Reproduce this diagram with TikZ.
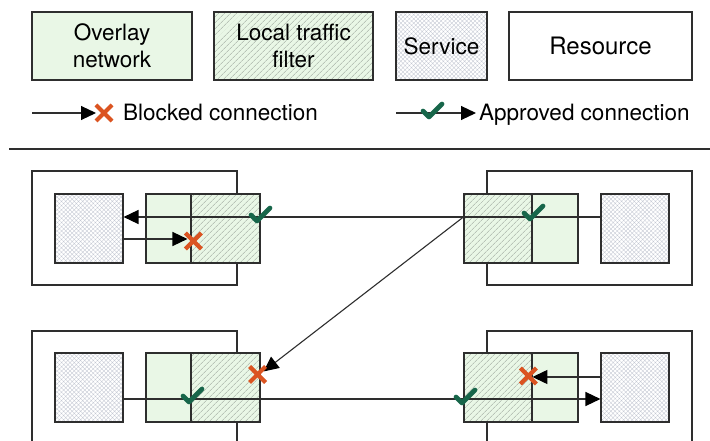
\documentclass[tikz,border=0pt]{standalone}
\usepackage{fontspec}
\setmainfont{TeX Gyre Heros}
\usetikzlibrary{patterns.meta,arrows.meta,calc}
\definecolor{edge}{HTML}{2E2E2E}
\definecolor{ovl}{HTML}{E9F7E6}
\definecolor{hatch}{HTML}{9EA89E}
\definecolor{cross}{HTML}{C4C8D3}
\definecolor{okcol}{HTML}{17664A}
\definecolor{nocol}{HTML}{DB5421}
\tikzset{
  box/.style={draw=edge, line width=1.1pt, inner sep=0pt},
  ovlbox/.style={box, fill=ovl},
  fltbox/.style={box, preaction={fill=ovl},
    pattern={Lines[angle=45,distance=4pt,line width=0.5pt]}, pattern color=hatch},
  svcbox/.style={box, preaction={fill=white},
    pattern={Hatch[angle=45,distance=3pt,line width=0.35pt]}, pattern color=cross},
  lbl/.style={font=\fontsize{22.5}{27}\selectfont, align=center},
  conn/.style={draw=edge, line width=1.3pt},
  tip/.style={-{Triangle[length=15pt,width=14pt,fill=black,color=black]}},
  okmark/.pic={\draw[okcol, line width=4.7pt, line cap=round, line join=round]
    (-9,-1) -- (-3,5) -- (10,-8);},
  nomark/.pic={\draw[nocol, line width=4.2pt] (-8,-8) -- (8,8) (-8,8) -- (8,-8);}
}
\begin{document}
\begin{tikzpicture}[x=1pt, y=-1pt]
\clip (0,0) rectangle (710,441);
\fill[white] (0,0) rectangle (710,441);

% legend boxes
\node[ovlbox, lbl, minimum width=160pt, minimum height=68pt] (lovl) at (112,46) {Overlay\\network};
\node[fltbox, lbl, minimum width=159pt, minimum height=68pt] (lflt) at (293.5,46) {Local traffic\\filter};
\node[svcbox, lbl, minimum width=91pt, minimum height=68pt] (lsvc) at (441.5,46) {Service};
\node[box, font=\fontsize{24}{28}\selectfont, minimum width=183pt, minimum height=68pt] (lres) at (600.5,46) {Resource};

% legend connectors
\coordinate (b0) at (32,113);
\coordinate (b1) at (96,113);
\draw[conn, line width=1.1pt, tip] (b0) -- (b1);
\pic at (104,113) {nomark};
\node[lbl, anchor=base west, inner sep=0pt] (blbl) at (123,121) {Blocked connection};

\coordinate (a0) at (396,113);
\coordinate (a1) at (476,113);
\draw[conn, line width=1.1pt, tip] (a0) -- (a1);
\pic at (432,112) {okmark};
\node[lbl, anchor=base west, inner sep=0pt] (albl) at (479,121) {Approved connection};

% separator
\coordinate (s0) at (9,149);
\coordinate (s1) at (712,149);
\draw[edge, line width=1.5pt] (s0) -- (s1);

% top-left resource
\node[box, minimum width=205pt, minimum height=114pt] (tlo) at (134.5,228) {};
\node[svcbox, minimum width=68pt, minimum height=69pt] (tls) at (89,228.5) {};
\node[ovlbox, minimum width=45pt, minimum height=69pt] (tlg) at (168.5,228.5) {};
\node[fltbox, minimum width=69pt, minimum height=69pt] (tlf) at (225.5,228.5) {};

% top-right resource
\node[box, minimum width=205pt, minimum height=114pt] (tro) at (589.5,228) {};
\node[svcbox, minimum width=68pt, minimum height=69pt] (trs) at (635,228.5) {};
\node[ovlbox, minimum width=46pt, minimum height=69pt] (trg) at (555,228.5) {};
\node[fltbox, minimum width=68pt, minimum height=69pt] (trf) at (498,228.5) {};

% bottom-left resource
\node[box, minimum width=205pt, minimum height=129pt] (blo) at (134.5,395.5) {};
\node[svcbox, minimum width=68pt, minimum height=69pt] (bls) at (89,387.5) {};
\node[ovlbox, minimum width=45pt, minimum height=69pt] (blg) at (168.5,387.5) {};
\node[fltbox, minimum width=69pt, minimum height=69pt] (blf) at (225.5,387.5) {};

% bottom-right resource
\node[box, minimum width=205pt, minimum height=129pt] (bro) at (589.5,395.5) {};
\node[svcbox, minimum width=68pt, minimum height=69pt] (brs) at (635,387.5) {};
\node[ovlbox, minimum width=46pt, minimum height=69pt] (brg) at (555,387.5) {};
\node[fltbox, minimum width=68pt, minimum height=69pt] (brf) at (498,387.5) {};

% connections
\draw[conn, tip] ($(trs.west)+(0,-11.5)$) -- ($(tls.east)+(0,-11.5)$);
\pic at (260,216) {okmark};
\pic at (533,214) {okmark};

\draw[conn, tip] ($(tls.east)+(0,10.5)$) -- ($(tlf.west)+(-3,10.5)$);
\pic at ($(tlf.west)+(3,12.5)$) {nomark};

\coordinate (dtip) at ($(blf.north east)+(3,19)$);
\draw[conn, line width=1.1pt, tip] ($(trf.west)+(0,-11.5)$) -- (dtip);
\pic at ($(blf.north east)+(-3,22)$) {nomark};

\draw[conn, tip] ($(bls.east)+(0,11.5)$) -- ($(brs.west)+(0,11.5)$);
\pic at (192,397) {okmark};
\pic at (465,398) {okmark};

\draw[conn, tip] ($(brs.west)+(0,-10.5)$) -- ($(brg.west)+(1,-10.5)$);
\pic at ($(brg.west)+(-3,-11.5)$) {nomark};
\end{tikzpicture}
\end{document}
